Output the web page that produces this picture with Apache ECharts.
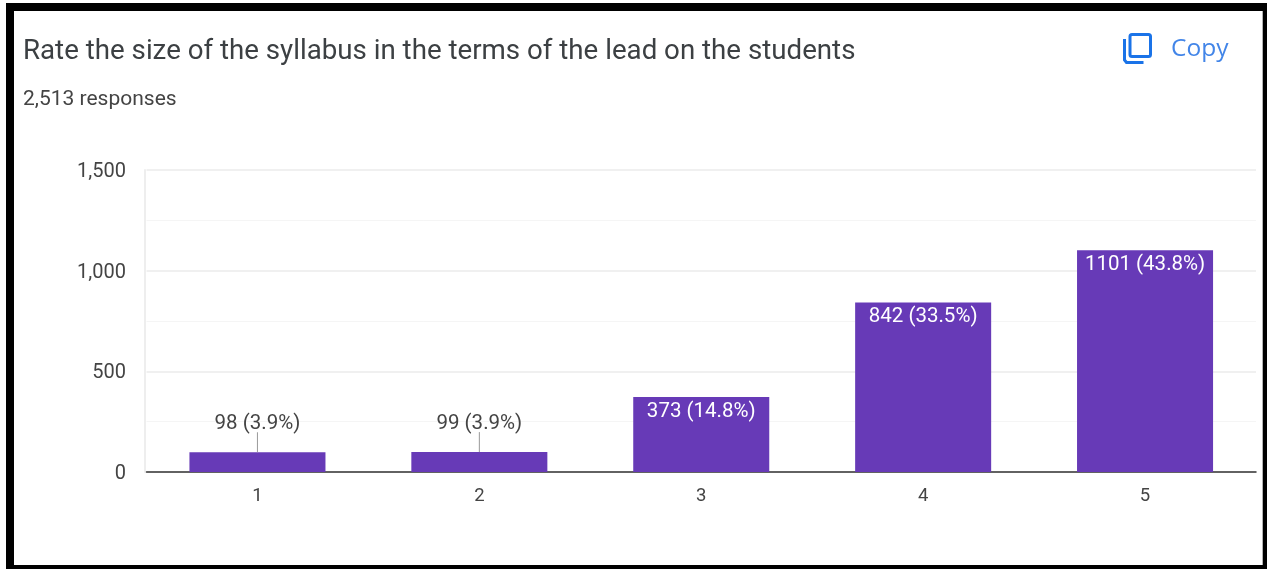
<!DOCTYPE html>
<html><head><meta charset="utf-8">
<style>html,body{margin:0;padding:0;background:#fff;overflow:hidden}#c{width:1267px;height:569px}</style>
<script src="https://cdn.jsdelivr.net/npm/echarts@6/dist/echarts.min.js"></script>
</head><body><div id="c"></div>
<script>
const titleText = 'Rate the size of the syllabus in the terms of the lead on the students';
const subtitleText = '2,513 responses';
const copyText = 'Copy';
const categories = ['1','2','3','4','5'];
const counts = [98,99,373,842,1101];
const labels = ['98 (3.9%)','99 (3.9%)','373 (14.8%)','842 (33.5%)','1101 (43.8%)'];
const outsideLimit = 200;
const chart = echarts.init(document.getElementById('c'), null, {renderer:'canvas'});
const font = 'Roboto, Arial, sans-serif';
chart.setOption({
  animation:false,
  backgroundColor:'#fff',
  textStyle:{fontFamily:font},
  title:[
    {text:titleText,left:23,top:38.5,padding:0,textStyle:{fontSize:27.7,fontWeight:400,color:'#3c4043',fontFamily:font}},
    {text:subtitleText,left:23,top:89,padding:0,textStyle:{fontSize:21,fontWeight:400,color:'#444',fontFamily:font}}
  ],
  grid:{left:146.5,right:11,top:170,bottom:97,containLabel:false},
  xAxis:{type:'category',data:categories,
    axisLine:{show:true,lineStyle:{color:'#333',width:1.5}},axisTick:{show:false},
    splitLine:{show:false},
    axisLabel:{color:'#444',fontSize:18.5,margin:15,fontFamily:font}},
  yAxis:{type:'value',min:0,max:1500,interval:500,offset:1.5,
    axisLine:{show:true,lineStyle:{color:'#eeeeee',width:2}},axisTick:{show:false},
    splitLine:{show:true,lineStyle:{color:'#ebebeb',width:1.5}},
    minorTick:{show:false,splitNumber:2},
    minorSplitLine:{show:true,lineStyle:{color:'#f5f5f5',width:1}},
    axisLabel:{color:'#444',fontSize:20,margin:19,verticalAlign:'top',lineHeight:4,fontFamily:font,
      formatter:v=>v.toLocaleString('en-US')}},
  series:[
    {type:'bar',barWidth:'61.3%',
     itemStyle:{color:'#673ab7'},
     data:counts.map((v,i)=>({value:v,label:v<outsideLimit
        ?{show:true,position:'top',distance:18,color:'#444',fontSize:20.5,fontFamily:font,formatter:labels[i]}
        :{show:true,position:'insideTop',distance:4,color:'#fff',fontSize:20.5,fontFamily:font,formatter:labels[i]}}))},
    {type:'custom',silent:true,z:5,
     data:counts.map((v,i)=>[i,v]).filter(d=>d[1]<outsideLimit),
     encode:{x:0,y:1},
     renderItem:(p,api)=>{
       const pt=api.coord([api.value(0),api.value(1)]);
       return {type:'line',shape:{x1:pt[0],y1:pt[1],x2:pt[0],y2:pt[1]-20},style:{stroke:'#999',lineWidth:1}};
     }}
  ],
  graphic:[
    {type:'rect',silent:true,z:100,shape:{x:10,y:7,width:1256.7,height:562},style:{fill:'none',stroke:'#000',lineWidth:8}},
    {type:'group',left:1122,top:32,z:50,children:[
      {type:'rect',shape:{x:7.5,y:1.5,width:20.5,height:22,r:2},style:{fill:'none',stroke:'#1a73e8',lineWidth:3}},
      {type:'polyline',shape:{points:[[2,6],[2,27],[4,29.5],[21,29.5]]},style:{fill:'none',stroke:'#1a73e8',lineWidth:3}}
    ]},
    {type:'text',left:1171,top:37,z:50,style:{text:copyText,fontSize:24.5,fontFamily:'"Open Sans", Roboto, sans-serif',fill:'#4285e8'}}
  ]
});
</script></body></html>
